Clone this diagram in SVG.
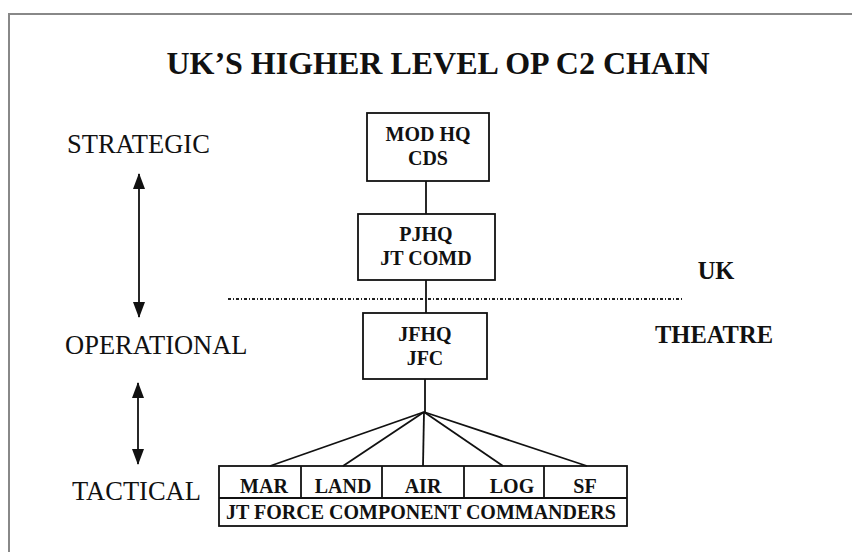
<svg xmlns="http://www.w3.org/2000/svg" width="852" height="552" viewBox="0 0 852 552">
<defs>
<style>
text{font-family:'Liberation Serif','DejaVu Serif',serif}
.lbl{font-size:26.5px;fill:#111}
.bold{font-weight:bold;fill:#111;text-anchor:middle}
.node{font-size:20px}
.box{fill:none;stroke:#111;stroke-width:1.8}
.conn{stroke:#111;stroke-width:1.8;fill:none}
</style>
<marker id="ah" viewBox="0 0 10 16" refX="15" refY="8" markerWidth="16" markerHeight="12" markerUnits="userSpaceOnUse" orient="auto-start-reverse">
<path d="M0,0 L16,8 L0,16 z" fill="#111"/>
</marker>
<marker id="ah2" viewBox="0 0 16 12" refX="15" refY="6" markerWidth="16" markerHeight="12" markerUnits="userSpaceOnUse" orient="auto-start-reverse">
<path d="M0,0 L16,6 L0,12 z" fill="#111"/>
</marker>
</defs>
<rect width="852" height="552" fill="#fff"/>
<path d="M9,552 L9,14 L852,14" fill="none" stroke="#888" stroke-width="2"/>
<text class="bold" x="438" y="74" font-size="32">UK’S HIGHER LEVEL OP C2 CHAIN</text>
<g id="labels">
<text class="lbl" x="67" y="153">STRATEGIC</text>
<text class="lbl" x="65" y="354">OPERATIONAL</text>
<text class="lbl" x="72" y="500">TACTICAL</text>
<text class="bold" x="716" y="279" font-size="24.5">UK</text>
<text class="bold" x="714" y="343" font-size="24.5">THEATRE</text>
</g>
<g id="level-arrows">
<line class="conn" x1="139" y1="174" x2="139" y2="317" marker-start="url(#ah2)" marker-end="url(#ah2)" stroke-width="2"/>
<line class="conn" x1="138" y1="383" x2="138" y2="464" marker-start="url(#ah2)" marker-end="url(#ah2)" stroke-width="2"/>
</g>
<line id="uk-theatre-boundary" x1="228" y1="299" x2="683" y2="299" stroke="#222" stroke-width="1.8" stroke-dasharray="3 2 1 2"/>
<g id="connectors">
<line class="conn" x1="426" y1="181" x2="426" y2="214"/>
<line class="conn" x1="426" y1="280" x2="426" y2="313"/>
<line class="conn" x1="425" y1="379" x2="425" y2="412"/>
<line class="conn" x1="424" y1="412" x2="270" y2="466"/>
<line class="conn" x1="424" y1="412" x2="343" y2="466"/>
<line class="conn" x1="424" y1="412" x2="423" y2="466"/>
<line class="conn" x1="424" y1="412" x2="503" y2="466"/>
<line class="conn" x1="424" y1="412" x2="587" y2="466"/>
</g>
<g id="mod-hq">
<rect class="box" x="367" y="113" width="122" height="68"/>
<text class="bold node" x="428" y="141">MOD HQ</text>
<text class="bold node" x="428" y="165">CDS</text>
</g>
<g id="pjhq">
<rect class="box" x="358" y="214" width="137" height="66"/>
<text class="bold node" x="426" y="241">PJHQ</text>
<text class="bold node" x="426" y="265">JT COMD</text>
</g>
<g id="jfhq">
<rect class="box" x="363" y="313" width="124" height="66"/>
<text class="bold node" x="425" y="341">JFHQ</text>
<text class="bold node" x="425" y="365">JFC</text>
</g>
<g id="components">
<rect class="box" x="219" y="466" width="408" height="60"/>
<line class="conn" x1="219" y1="498" x2="627" y2="498"/>
<line class="conn" x1="301" y1="466" x2="301" y2="498"/>
<line class="conn" x1="382" y1="466" x2="382" y2="498"/>
<line class="conn" x1="464" y1="466" x2="464" y2="498"/>
<line class="conn" x1="544" y1="466" x2="544" y2="498"/>
<text class="bold node" x="264" y="493">MAR</text>
<text class="bold node" x="343" y="493">LAND</text>
<text class="bold node" x="423" y="493">AIR</text>
<text class="bold node" x="512" y="493">LOG</text>
<text class="bold node" x="585" y="493">SF</text>
<text class="bold node" x="421" y="519">JT FORCE COMPONENT COMMANDERS</text>
</g>
</svg>
